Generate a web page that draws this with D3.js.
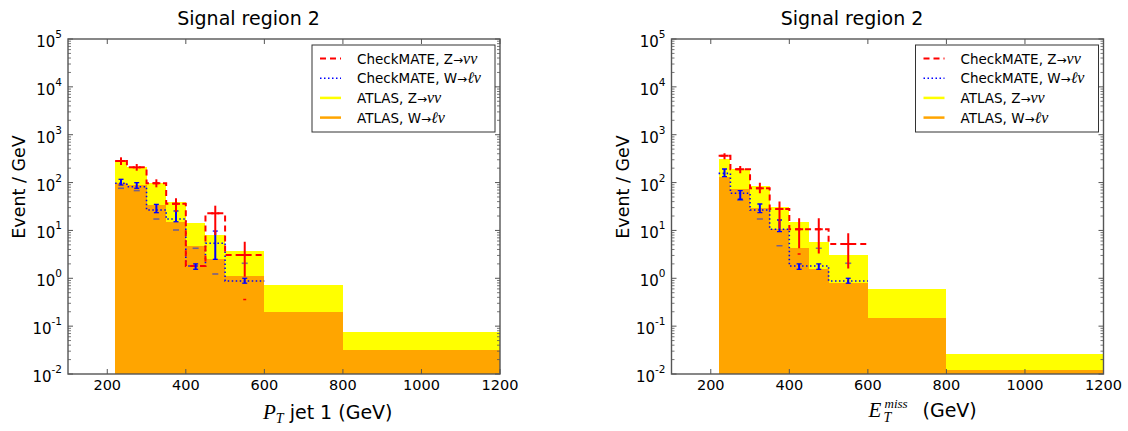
<!DOCTYPE html>
<html>
<head>
<meta charset="utf-8">
<script src="https://cdn.jsdelivr.net/npm/d3@7"></script>
<style>
  body { margin: 0; background: #fff; }
  text { font-family: "DejaVu Sans", sans-serif; fill: #000; }
  .math { font-family: "Liberation Serif", "DejaVu Serif", serif; font-style: italic; }
</style>
</head>
<body>
<svg id="chart" width="1128" height="431"></svg>
<script>
// bin edges (GeV), shared by both panels
var binEdges = [220, 250, 300, 350, 400, 450, 500, 600, 800, 1200];
var xTicks = [200, 400, 600, 800, 1000, 1200];
var yExponents = [-2, -1, 0, 1, 2, 3, 4, 5];

// panel 1 : P_T jet 1
var ptAtlasZ = [286, 208, 97, 40, 14, 8.0, 3.7, 0.72, 0.075];
var ptAtlasW = [100, 88, 34, 15, 4.7, 2.5, 1.1, 0.20, 0.031];
var ptCmZ = [282, 208, 97, 36, 1.8, 22.8, 3.07];
var ptCmZLo = [233, 177, 79.6, 24.7, null, 8.0, 1.08];
var ptCmZHi = [337, 244, 117, 47, null, 32.9, 5.8];
var ptCmW = [97, 82, 26.7, 17.3, 1.8, 5.4, 0.88];
var ptCmWLo = [89, 76, 23.5, 15.2, 1.54, 2.49, 0.79];
var ptCmWHi = [117, 99.5, 35, 25.5, 2.0, 9.7, 1.0];
var ptGreyMarks = [76, 68, 17.3, 10.2, 4.24, 1.23, 2.06];
var ptRedMarks = [null, null, null, null, null, null, 0.36];

// panel 2 : E_T^miss
var metAtlasZ = [311, 189, 85, 31, 15.2, 5.8, 3.07, 0.59, 0.026];
var metAtlasW = [133, 72, 29, 10.6, 4.36, 1.6, 0.79, 0.15, 0.0121];
var metCmZ = [365, 189, 76, 28, 10.6, 10.6, 5.2];
var metCmZLo = [306, 156, 60, 11, 4.24, 3.3, 1.6];
var metCmZHi = [409, 222, 99.5, 40, 17.9, 17.9, 8.7];
var metCmW = [156, 60, 26.7, 10.6, 1.81, 1.81, 0.88];
var metCmWLo = [133, 44.8, 23.5, 9.4, 1.54, 1.54, 0.79];
var metCmWHi = [192, 68, 35.7, 16.5, 2.0, 2.0, 1.0];
var metGreyMarks = [null, 43, 17.3, 4.8, null, 4.24, 2.06];
var metRedMarks = [null, null, null, null, 3.2, null, null];

var svg = d3.select("#chart");

var drawPanel = function (cfg) {
  var dx = cfg.dx;
  var g = svg.append("g").attr("transform", "translate(" + dx + ",0)");
  var x = d3.scaleLinear().domain([100, 1200]).range([68, 500]);
  var y = d3.scaleLog().domain([1e-2, 1e5]).range([374, 39]);
  var base = y(1e-2);
  var clipId = "clip" + cfg.id;

  g.append("clipPath").attr("id", clipId)
    .append("rect").attr("x", 68).attr("y", 39).attr("width", 432).attr("height", 335);

  var plot = g.append("g").attr("clip-path", "url(#" + clipId + ")");

  var bars = function (vals, color) {
    plot.selectAll(null).data(vals).enter().append("rect")
      .attr("x", function (d, i) { return x(binEdges[i]); })
      .attr("width", function (d, i) { return x(binEdges[i + 1]) - x(binEdges[i]); })
      .attr("y", function (d) { return y(d); })
      .attr("height", function (d) { return base - y(d); })
      .attr("fill", color)
      .attr("shape-rendering", "crispEdges");
  };
  bars(cfg.atlasZ, "#ffff00");
  bars(cfg.atlasW, "#ffa500");

  var stepLine = d3.line()
    .x(function (d) { return x(d[0]); })
    .y(function (d) { return y(d[1]); })
    .curve(d3.curveStepAfter);
  var stepPoints = function (vals) {
    var pts = vals.map(function (v, i) { return [binEdges[i], v]; });
    pts.push([binEdges[vals.length], vals[vals.length - 1]]);
    return pts;
  };

  plot.append("path").attr("d", stepLine(stepPoints(cfg.cmW)))
    .attr("fill", "none").attr("stroke", "#0000ff")
    .attr("stroke-width", 1.6).attr("stroke-dasharray", "1.5,2.5");
  plot.append("path").attr("d", stepLine(stepPoints(cfg.cmZ)))
    .attr("fill", "none").attr("stroke", "#ff0000")
    .attr("stroke-width", 2).attr("stroke-dasharray", "6,4");

  var mid = function (i) { return x((binEdges[i] + binEdges[i + 1]) / 2); };

  // grey-blue markers
  cfg.greyMarks.forEach(function (v, i) {
    if (v == null) return;
    plot.append("line")
      .attr("x1", mid(i) - 3).attr("x2", mid(i) + 3)
      .attr("y1", y(v)).attr("y2", y(v))
      .attr("stroke", "#4a4ab8").attr("stroke-opacity", 0.75).attr("stroke-width", 1.6);
  });
  cfg.redMarks.forEach(function (v, i) {
    if (v == null) return;
    plot.append("line")
      .attr("x1", mid(i) - 1.5).attr("x2", mid(i) + 1.5)
      .attr("y1", y(v)).attr("y2", y(v))
      .attr("stroke", "#ff0000").attr("stroke-width", 1.5);
  });

  // CheckMATE W error bars (capped)
  cfg.cmW.forEach(function (v, i) {
    var lo = cfg.cmWLo[i], hi = cfg.cmWHi[i];
    if (lo == null) return;
    var cx = mid(i);
    plot.append("line").attr("x1", cx).attr("x2", cx)
      .attr("y1", y(lo)).attr("y2", y(hi))
      .attr("stroke", "#0000ff").attr("stroke-width", 2);
    [lo, hi].forEach(function (e) {
      plot.append("line").attr("x1", cx - 2.5).attr("x2", cx + 2.5)
        .attr("y1", y(e)).attr("y2", y(e))
        .attr("stroke", "#0000ff").attr("stroke-width", 1.3);
    });
  });

  // CheckMATE Z error bars
  cfg.cmZ.forEach(function (v, i) {
    var lo = cfg.cmZLo[i], hi = cfg.cmZHi[i];
    if (lo == null) return;
    var cx = mid(i);
    plot.append("line").attr("x1", cx).attr("x2", cx)
      .attr("y1", y(lo)).attr("y2", y(hi))
      .attr("stroke", "#ff0000").attr("stroke-width", 2);
    plot.append("line").attr("x1", cx - 4).attr("x2", cx + 4)
      .attr("y1", y(v)).attr("y2", y(v))
      .attr("stroke", "#ff0000").attr("stroke-width", 2);
  });

  // frame
  g.append("rect").attr("x", 68).attr("y", 39).attr("width", 432).attr("height", 335)
    .attr("fill", "none").attr("stroke", "#555").attr("stroke-width", 1.4);

  // x ticks (inward, bottom and top)
  xTicks.forEach(function (t) {
    var tx = x(t);
    g.append("line").attr("x1", tx).attr("x2", tx).attr("y1", 374).attr("y2", 369)
      .attr("stroke", "#555").attr("stroke-width", 1);
    g.append("line").attr("x1", tx).attr("x2", tx).attr("y1", 39).attr("y2", 44)
      .attr("stroke", "#555").attr("stroke-width", 1);
    g.append("text").attr("x", tx).attr("y", 390)
      .attr("text-anchor", "middle").attr("font-size", 14.5).text(t);
  });

  // y ticks (log, major + minor, both sides)
  yExponents.forEach(function (e) {
    var ty = y(Math.pow(10, e));
    [[68, 73], [500, 495]].forEach(function (p) {
      g.append("line").attr("x1", p[0]).attr("x2", p[1]).attr("y1", ty).attr("y2", ty)
        .attr("stroke", "#555").attr("stroke-width", 1);
    });
    var lab = g.append("text").attr("x", 62).attr("y", ty + 8)
      .attr("text-anchor", "end").attr("font-size", 15);
    lab.append("tspan").text("10");
    lab.append("tspan").attr("dy", -9).attr("font-size", 10.5).text(e);
    if (e < 5) {
      d3.range(2, 10).forEach(function (m) {
        var my = y(m * Math.pow(10, e));
        [[68, 71], [500, 497]].forEach(function (p) {
          g.append("line").attr("x1", p[0]).attr("x2", p[1]).attr("y1", my).attr("y2", my)
            .attr("stroke", "#555").attr("stroke-width", 0.8);
        });
      });
    }
  });

  // title and axis labels
  g.append("text").attr("x", 248.5).attr("y", 25).attr("text-anchor", "middle")
    .attr("font-size", 19).text("Signal region 2");
  g.append("text").attr("transform", "translate(25,187) rotate(-90)")
    .attr("text-anchor", "middle").attr("font-size", 17.5).text("Event / GeV");
  cfg.xLabel(g);

  // legend
  var lg = g.append("g");
  lg.append("rect").attr("x", 312).attr("y", 45).attr("width", 183).attr("height", 87)
    .attr("fill", "#fff").attr("stroke", "#333").attr("stroke-width", 1);
  var entries = [
    { pre: "CheckMATE, ", proc: "Z", out: "\u03bd\u03bd", color: "#ff0000", dash: "6,4", w: 2 },
    { pre: "CheckMATE, ", proc: "W", out: "\u2113\u03bd", color: "#0000ff", dash: "1.5,2.5", w: 1.6 },
    { pre: "ATLAS, ", proc: "Z", out: "\u03bd\u03bd", color: "#ffff00", dash: null, w: 2.5 },
    { pre: "ATLAS, ", proc: "W", out: "\u2113\u03bd", color: "#ffa500", dash: null, w: 2.5 }
  ];
  entries.forEach(function (en, i) {
    var ry = 58.5 + i * 19.7;
    lg.append("line").attr("x1", 320).attr("x2", 341).attr("y1", ry).attr("y2", ry)
      .attr("stroke", en.color).attr("stroke-width", en.w)
      .attr("stroke-dasharray", en.dash);
    var t = lg.append("text").attr("x", 357).attr("y", ry + 5).attr("font-size", 13.5);
    t.append("tspan").text(en.pre + en.proc);
    t.append("tspan").attr("font-family", "DejaVu Sans").attr("font-size", 12).text("\u2192");
    t.append("tspan").attr("class", "math").attr("font-size", 16).text(en.out);
  });
};

drawPanel({
  id: 1, dx: 0,
  atlasZ: ptAtlasZ, atlasW: ptAtlasW,
  cmZ: ptCmZ, cmZLo: ptCmZLo, cmZHi: ptCmZHi,
  cmW: ptCmW, cmWLo: ptCmWLo, cmWHi: ptCmWHi,
  greyMarks: ptGreyMarks, redMarks: ptRedMarks,
  xLabel: function (g) {
    var t = g.append("text").attr("x", 263).attr("y", 419).attr("font-size", 19);
    t.append("tspan").attr("class", "math").attr("font-size", 21).text("P");
    t.append("tspan").attr("class", "math").attr("font-size", 14).attr("dy", 4).text("T");
    t.append("tspan").attr("dy", -4).text(" jet 1 (GeV)");
  }
});

drawPanel({
  id: 2, dx: 603.5,
  atlasZ: metAtlasZ, atlasW: metAtlasW,
  cmZ: metCmZ, cmZLo: metCmZLo, cmZHi: metCmZHi,
  cmW: metCmW, cmWLo: metCmWLo, cmWHi: metCmWHi,
  greyMarks: metGreyMarks, redMarks: metRedMarks,
  xLabel: function (g) {
    g.append("text").attr("class", "math").attr("x", 265).attr("y", 417)
      .attr("font-size", 21).text("E");
    g.append("text").attr("class", "math").attr("x", 280).attr("y", 422)
      .attr("font-size", 14).text("T");
    g.append("text").attr("class", "math").attr("x", 281).attr("y", 408)
      .attr("font-size", 13).text("miss");
    g.append("text").attr("x", 319).attr("y", 417).attr("font-size", 19).text("(GeV)");
  }
});
</script>
</body>
</html>
